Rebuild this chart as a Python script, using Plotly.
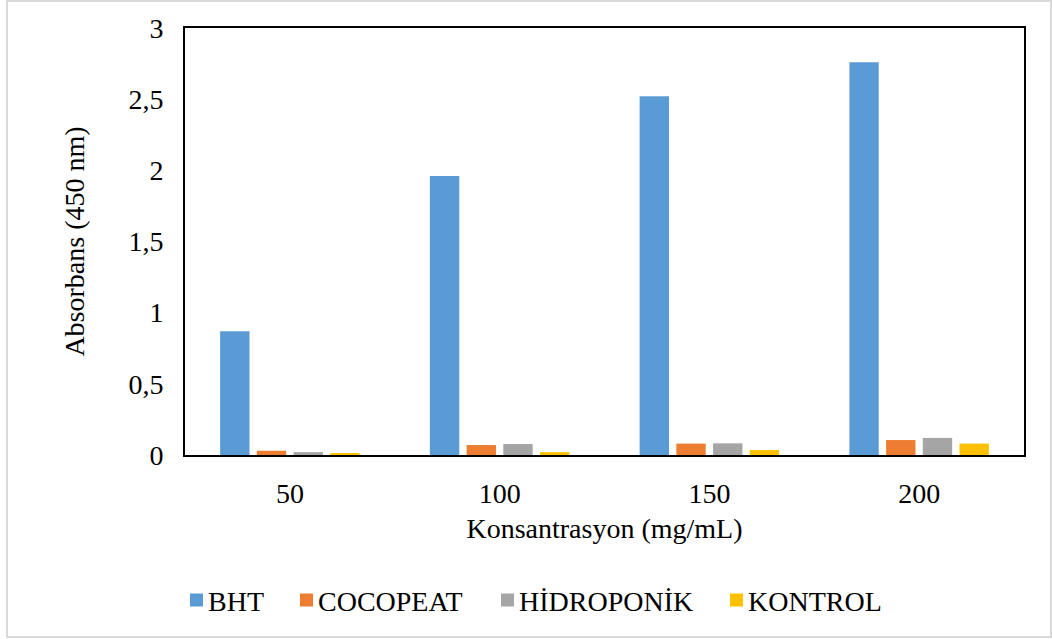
import plotly.graph_objects as go

# Concentrations (mg/mL) and absorbance readings at 450 nm
concentrations = ["50", "100", "150", "200"]
bht = [0.87, 1.96, 2.52, 2.76]
cocopeat = [0.03, 0.07, 0.08, 0.105]
hidroponik = [0.02, 0.077, 0.082, 0.12]
kontrol = [0.012, 0.02, 0.035, 0.08]

y_tick_vals = [0, 0.5, 1, 1.5, 2, 2.5, 3]
y_tick_text = ["0", "0,5", "1", "1,5", "2", "2,5", "3"]

series = [
    ("BHT", bht, "#5B9BD5"),
    ("COCOPEAT", cocopeat, "#ED7D31"),
    ("HİDROPONİK", hidroponik, "#A5A5A5"),
    ("KONTROL", kontrol, "#FFC000"),
]

FONT = "Liberation Serif, Times New Roman, serif"
FS = 28

fig = go.Figure()
for name, vals, color in series:
    fig.add_trace(go.Bar(
        x=concentrations, y=vals, name=name,
        marker=dict(color=color, line=dict(width=0)),
        showlegend=False,
    ))

W, H = 1052, 639
L, R, T, B = 185, 28, 28, 184
pw, ph = W - L - R, H - T - B

def px_x(x):
    return (x - L) / pw

def px_y(y):
    return (H - B - y) / ph

# Legend row below the axis title: colour square + label per series
legend_left = [190, 300, 501, 730]
legend_y = 600
sq = 13
shapes = [dict(
    type="rect", xref="paper", yref="paper",
    x0=px_x(7), x1=px_x(1051), y0=px_y(637), y1=px_y(1),
    line=dict(color="#D9D9D9", width=2), fillcolor="rgba(0,0,0,0)", layer="below",
)]
annotations = []
for (name, _, color), lx in zip(series, legend_left):
    shapes.append(dict(
        type="rect", xref="paper", yref="paper",
        x0=px_x(lx), x1=px_x(lx + sq),
        y0=px_y(legend_y + sq / 2), y1=px_y(legend_y - sq / 2),
        line=dict(width=0), fillcolor=color,
    ))
    annotations.append(dict(
        text=name, xref="paper", yref="paper",
        x=px_x(lx + sq + 3), y=px_y(legend_y + 1),
        xanchor="left", yanchor="middle", showarrow=False,
        font=dict(family=FONT, size=FS, color="black"),
    ))

fig.update_layout(
    width=W, height=H,
    margin=dict(l=L, r=R, t=T, b=B),
    paper_bgcolor="white", plot_bgcolor="white",
    barmode="group", bargap=0.3, bargroupgap=0.2,
    font=dict(family=FONT, size=FS, color="black"),
    showlegend=False,
    xaxis=dict(
        showline=True, mirror=True, linecolor="black", linewidth=2,
        ticks="", showgrid=False,
        tickfont=dict(family=FONT, size=FS),
        ticklabelstandoff=12,
        title=dict(text="Konsantrasyon (mg/mL)", font=dict(family=FONT, size=FS), standoff=11),
    ),
    yaxis=dict(
        range=[0, 3], showline=True, mirror=True, linecolor="black", linewidth=2,
        ticks="", showgrid=False, zeroline=False,
        tickvals=y_tick_vals, ticktext=y_tick_text,
        tickfont=dict(family=FONT, size=FS),
        ticklabelstandoff=14,
        title=dict(text="Absorbans (450 nm)", font=dict(family=FONT, size=FS), standoff=36),
    ),
    shapes=shapes,
    annotations=annotations,
)

fig.write_html("out.html")
